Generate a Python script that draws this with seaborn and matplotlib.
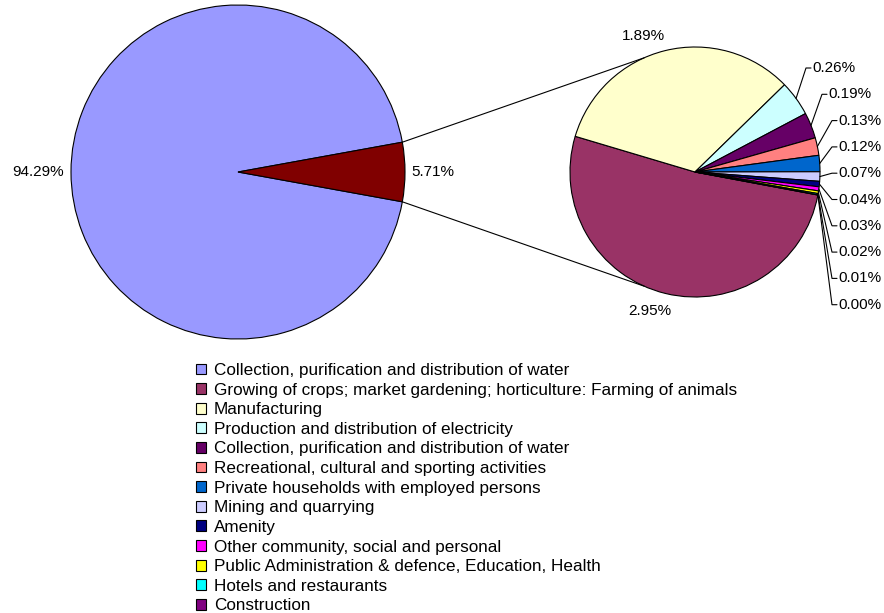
import numpy as np
import matplotlib
matplotlib.use("Agg")
import matplotlib.pyplot as plt
import seaborn as sns

# main pie: share of the big category vs. "other" (expanded in the second pie)
main_values = [94.29, 5.71]
main_colors = ["#9999FF", "#800000"]

# secondary pie (percent of total)
sub_values = [2.95, 1.89, 0.26, 0.19, 0.13, 0.12, 0.07, 0.04, 0.03, 0.02, 0.01, 0.00]
sub_colors = ["#993366", "#FFFFCC", "#CCFFFF", "#660066", "#FF8080", "#0066CC",
              "#CCCCFF", "#000080", "#FF00FF", "#FFFF00", "#00FFFF", "#800080"]

legend_labels = [
    "Collection, purification and distribution of water",
    "Growing of crops; market gardening; horticulture: Farming of animals",
    "Manufacturing",
    "Production and distribution of electricity",
    "Collection, purification and distribution of water",
    "Recreational, cultural and sporting activities",
    "Private households with employed persons",
    "Mining and quarrying",
    "Amenity",
    "Other community, social and personal",
    "Public Administration & defence, Education, Health",
    "Hotels and restaurants",
    "Construction",
]

sns.set_theme(style="white")
plt.rcParams["font.family"] = ["Liberation Sans", "DejaVu Sans"]
plt.rcParams["text.color"] = "black"
FS = 11.0        # pie labels
FS_LEG = 12.3    # legend

W, H = 884, 613
SCALE = 167.0           # pixels per data unit (main pie radius)
CX, CY = 238, 172       # main pie centre in pixels


def px(x, y):
    """pixel position -> data coordinates"""
    return (x - CX) / SCALE, (CY - y) / SCALE


fig = plt.figure(figsize=(W / 100, H / 100), dpi=100)
ax = fig.add_axes([0, 0, 1, 1])

wedge_kw = dict(edgecolor="black", linewidth=0.8)

# main pie, small slice centred on the right
start_main = main_values[1] / sum(main_values) * 360 / 2
main_wedges, main_texts = ax.pie(
    main_values, colors=main_colors, startangle=start_main,
    labels=[f"{v:.2f}%" for v in main_values], labeldistance=1.04,
    radius=1.0, center=(0, 0), wedgeprops=wedge_kw,
    textprops=dict(fontsize=FS, color="black"))

# secondary pie
sub_center = px(695, 172)
sub_r = 125 / SCALE
sub_wedges, _ = ax.pie(
    sub_values, colors=sub_colors, startangle=-10.6, counterclock=False,
    radius=sub_r, center=sub_center, wedgeprops=wedge_kw)

# connector lines between the two pies
w_other = main_wedges[1]
for a_main, a_sub in [(w_other.theta2, 114), (w_other.theta1, 246)]:
    x0, y0 = np.cos(np.radians(a_main)), np.sin(np.radians(a_main))
    x1 = sub_center[0] + sub_r * np.cos(np.radians(a_sub))
    y1 = sub_center[1] + sub_r * np.sin(np.radians(a_sub))
    ax.plot([x0, x1], [y0, y1], color="black", lw=0.8)

# big labels on the secondary pie
for i, (x, y) in zip([0, 1], [px(650, 311), px(643, 36)]):
    ax.text(x, y, f"{sub_values[i]:.2f}%", ha="center", va="center", fontsize=FS)

# small slices: labels stacked on the right with leader lines
text_x_px = [812, 828] + [838] * 8
for k, w in enumerate(sub_wedges[2:]):
    mid = np.radians((w.theta1 + w.theta2) / 2)
    ex = sub_center[0] + sub_r * np.cos(mid)
    ey = sub_center[1] + sub_r * np.sin(mid)
    tx, ty = px(text_x_px[k], 68 + 26.3 * k)
    ax.plot([ex, tx - 6 / SCALE, tx - 1 / SCALE], [ey, ty, ty], color="black", lw=0.8)
    ax.text(tx, ty, f"{sub_values[k + 2]:.2f}%", ha="left", va="center", fontsize=FS)

ax.set_xlim(-CX / SCALE, (W - CX) / SCALE)
ax.set_ylim((CY - H) / SCALE, CY / SCALE)
ax.set_aspect("auto")
ax.axis("off")

handles = [plt.Rectangle((0, 0), 1, 1, facecolor=c, edgecolor="black", linewidth=0.8)
           for c in [main_colors[0]] + sub_colors]
fig.legend(handles, legend_labels, loc="upper left",
           bbox_to_anchor=(196 / W, 1 - 363 / H), frameon=False, fontsize=FS_LEG,
           labelcolor="black",
           handlelength=0.6, handleheight=0.6, handletextpad=0.45,
           labelspacing=0.27, borderpad=0, borderaxespad=0)

fig.savefig("out.png", dpi=100)
